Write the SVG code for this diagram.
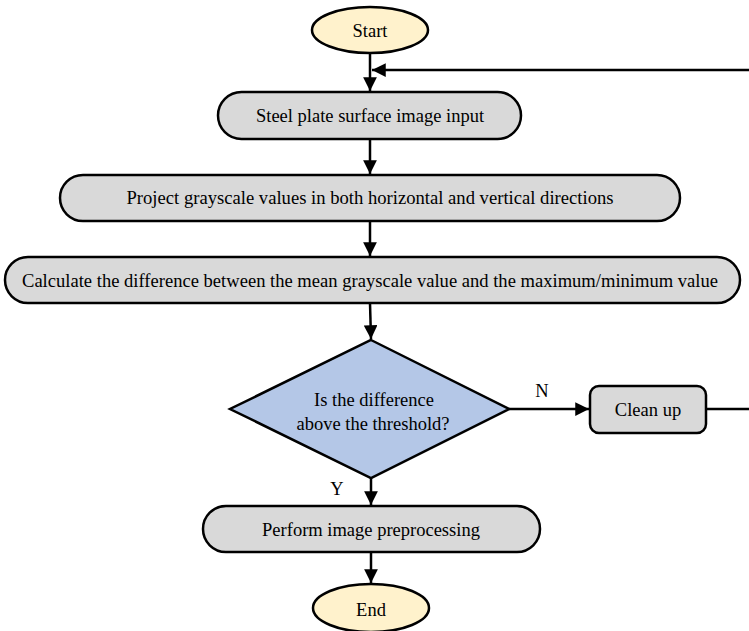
<svg xmlns="http://www.w3.org/2000/svg" width="749" height="631" viewBox="0 0 749 631">
<style>
.t{font-family:"Liberation Serif",serif;font-size:18.5px;fill:#000;text-anchor:middle;dominant-baseline:central}
.box{fill:#d9d9d9;stroke:#000;stroke-width:2.5}
.term{fill:#fff2cc;stroke:#000;stroke-width:2.5}
.dec{fill:#b4c7e7;stroke:#000;stroke-width:2.5}
.c{fill:none;stroke:#000;stroke-width:2.5}
</style>
<defs>
<marker id="ah" viewBox="0 0 10 10" refX="10" refY="5" markerWidth="5.5" markerHeight="5.5" orient="auto" markerUnits="strokeWidth">
<path d="M0,0 L10,5 L0,10 Z" fill="#000"/>
</marker>
</defs>
<g id="connectors">
<line class="c" x1="370" y1="53" x2="370" y2="91" marker-end="url(#ah)"/>
<line class="c" x1="749" y1="70" x2="372" y2="70" marker-end="url(#ah)"/>
<line class="c" x1="370" y1="139" x2="370" y2="174" marker-end="url(#ah)"/>
<line class="c" x1="370" y1="221" x2="370" y2="256" marker-end="url(#ah)"/>
<line class="c" x1="370" y1="303" x2="371" y2="339" marker-end="url(#ah)"/>
<line class="c" x1="509" y1="409" x2="589" y2="409" marker-end="url(#ah)"/>
<line class="c" x1="706" y1="409" x2="749" y2="409"/>
<line class="c" x1="371" y1="478" x2="371" y2="505" marker-end="url(#ah)"/>
<line class="c" x1="371" y1="552" x2="371" y2="583" marker-end="url(#ah)"/>
<text class="t" x="542" y="391">N</text>
<text class="t" x="337" y="489">Y</text>
</g>
<g id="start">
<ellipse class="term" cx="370" cy="30" rx="58" ry="23"/>
<text class="t" x="370" y="31">Start</text>
</g>
<g id="input">
<rect class="box" x="218" y="92" width="303" height="47" rx="23.5"/>
<text class="t" x="370" y="116">Steel plate surface image input</text>
</g>
<g id="project">
<rect class="box" x="60" y="175" width="620" height="46" rx="23"/>
<text class="t" x="370" y="198" textLength="487" lengthAdjust="spacingAndGlyphs">Project grayscale values in both horizontal and vertical directions</text>
</g>
<g id="calculate">
<rect class="box" x="5" y="257" width="735" height="46" rx="23"/>
<text class="t" x="370" y="281" textLength="696" lengthAdjust="spacingAndGlyphs">Calculate the difference between the mean grayscale value and the maximum/minimum value</text>
</g>
<g id="decision">
<polygon class="dec" points="371,340 509,409 371,478 230,409"/>
<text class="t" x="374" y="400">Is the difference</text>
<text class="t" x="373" y="424">above the threshold?</text>
</g>
<g id="cleanup">
<rect class="box" x="590" y="386" width="116" height="47" rx="9"/>
<text class="t" x="648" y="410">Clean up</text>
</g>
<g id="preprocess">
<rect class="box" x="203" y="506" width="337" height="46" rx="23"/>
<text class="t" x="371" y="530">Perform image preprocessing</text>
</g>
<g id="end">
<ellipse class="term" cx="371" cy="608" rx="58" ry="24"/>
<text class="t" x="371" y="610">End</text>
</g>
</svg>
